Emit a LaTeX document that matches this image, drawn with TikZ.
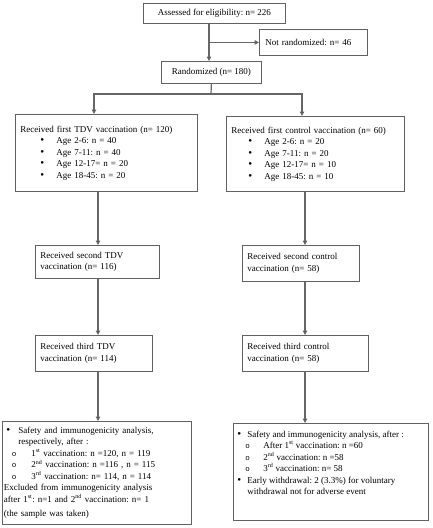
\documentclass[tikz,border=0pt]{standalone}
\usepackage{fontspec}
\setmainfont{Liberation Serif}
\newfontfamily\monof{Liberation Mono}
\usetikzlibrary{arrows.meta}
\newcommand{\subb}{{\monof\fontsize{7.5}{7.5}\selectfont o}}
\newcommand{\bul}{{\fontsize{11}{11}\selectfont •}}
\frenchspacing
\begin{document}
\begin{tikzpicture}[x=1pt,y=-1pt,
  bx/.style={draw=black!62, line width=0.8pt, anchor=north west, align=left,
    inner xsep=5pt, inner ysep=0pt, font=\fontsize{9}{11.5}\selectfont\frenchspacing},
  bxc/.style={bx, align=center},
  arr/.style={draw=black!60, line width=1.2pt, -{Triangle[length=4.5pt,width=4.5pt,fill=black]}},
  ln/.style={draw=black!60, line width=1.2pt}]
\useasboundingbox (0,0) rectangle (433,528);

\node[bxc, minimum width=142pt, minimum height=20pt] (assess) at (143,3) {Assessed for eligibility: n= 226};
\node[bx, inner xsep=6pt, text width=96pt, minimum width=108pt, minimum height=26pt] (notr) at (259,29) {Not randomized: n= 46};
\node[bxc, minimum width=100pt, minimum height=22pt] (rand) at (161,61) {Randomized (n= 180)};

\node[bx, text width=172pt, minimum width=182pt, minimum height=77pt] (L1) at (15,114) {Received first TDV vaccination (n= 120)\\
\hspace*{20pt}\makebox[16pt][l]{\bul}Age 2-6: n = 40\\
\hspace*{20pt}\makebox[16pt][l]{\bul}Age 7-11: n = 40\\
\hspace*{20pt}\makebox[16pt][l]{\bul}Age 12-17= n = 20\\
\hspace*{20pt}\makebox[16pt][l]{\bul}Age 18-45: n = 20};
\node[bx, text width=168pt, minimum width=178pt, minimum height=75pt] (R1) at (226,116) {Received first control vaccination (n= 60)\\
\hspace*{17pt}\makebox[16pt][l]{\bul}Age 2-6: n = 20\\
\hspace*{17pt}\makebox[16pt][l]{\bul}Age 7-11: n = 20\\
\hspace*{17pt}\makebox[16pt][l]{\bul}Age 12-17= n = 10\\
\hspace*{17pt}\makebox[16pt][l]{\bul}Age 18-45: n = 10};

\node[bx, text width=114pt, minimum width=124pt, minimum height=33pt] (L2) at (35,245) {Received second TDV\\vaccination (n= 116)};
\node[bx, text width=107pt, minimum width=117pt, minimum height=36pt] (R2) at (242,245) {Received second control\\vaccination (n= 58)};
\node[bx, text width=107pt, minimum width=117pt, minimum height=36pt] (L3) at (35,335) {Received third TDV\\vaccination (n= 114)};
\node[bx, text width=116pt, minimum width=126pt, minimum height=36pt] (R3) at (242,335) {Received third control\\vaccination (n= 58)};

\node[bx, inner xsep=1.5pt, text width=186pt, minimum width=189pt, minimum height=103pt] (LF) at (2,421) {\hspace*{2.5pt}\makebox[12pt][l]{\bul}Safety and immunogenicity analysis,\\
\hspace*{14.5pt}respectively, after :\\
\hspace*{8pt}\makebox[19.5pt][l]{\subb}1\textsuperscript{st} vaccination: n =120, n = 119\\
\hspace*{8pt}\makebox[19.5pt][l]{\subb}2\textsuperscript{nd} vaccination: n =116 , n = 115\\
\hspace*{8pt}\makebox[19.5pt][l]{\subb}3\textsuperscript{rd} vaccination: n= 114, n = 114\\
Excluded from immunogenicity analysis\\
after 1\textsuperscript{st}: n=1 and 2\textsuperscript{nd} vaccination: n= 1\\[3pt]
(the sample was taken)};
\node[bx, inner xsep=3pt, inner ysep=3.5pt, minimum width=195pt, minimum height=97pt] (RF) at (233,423) {\parbox[t][90pt][t]{189pt}{\vspace*{4pt}\fontsize{9}{11.5}\selectfont\frenchspacing
\hspace*{1pt}\makebox[10pt][l]{\bul}Safety and immunogenicity analysis, after :\\
\hspace*{9pt}\makebox[18pt][l]{\subb}After 1\textsuperscript{st} vaccination: n =60\\
\hspace*{9pt}\makebox[18pt][l]{\subb}2\textsuperscript{nd} vaccination: n =58\\
\hspace*{9pt}\makebox[18pt][l]{\subb}3\textsuperscript{rd} vaccination: n= 58\\
\hspace*{1pt}\makebox[10pt][l]{\bul}Early withdrawal: 2 (3.3\%) for voluntary\\
\hspace*{11pt}withdrawal not for adverse event}};

\coordinate (cT) at (209,0);
\coordinate (tL) at (94,0);
\coordinate (tR) at (302,0);
\coordinate (cL) at (98,0);
\coordinate (cR) at (305,0);
\coordinate (jn) at (211,94);

\draw[arr] (assess.south -| cT) -- (rand.north -| cT);
\draw[arr] (cT |- notr.west) -- (notr.west);
\draw[ln] (rand.south) -- (jn);
\draw[arr] (jn) -| (L1.north -| tL);
\draw[arr] (jn) -| (R1.north -| tR);
\draw[arr] (L1.south -| cL) -- (L2.north -| cL);
\draw[arr] (L2.south -| cL) -- (L3.north -| cL);
\draw[arr] (L3.south -| cL) -- (LF.north -| cL);
\draw[arr] (R1.south -| cR) -- (R2.north -| cR);
\draw[arr] (R2.south -| cR) -- (R3.north -| cR);
\draw[arr] (R3.south -| cR) -- (RF.north -| cR);
\end{tikzpicture}
\end{document}
